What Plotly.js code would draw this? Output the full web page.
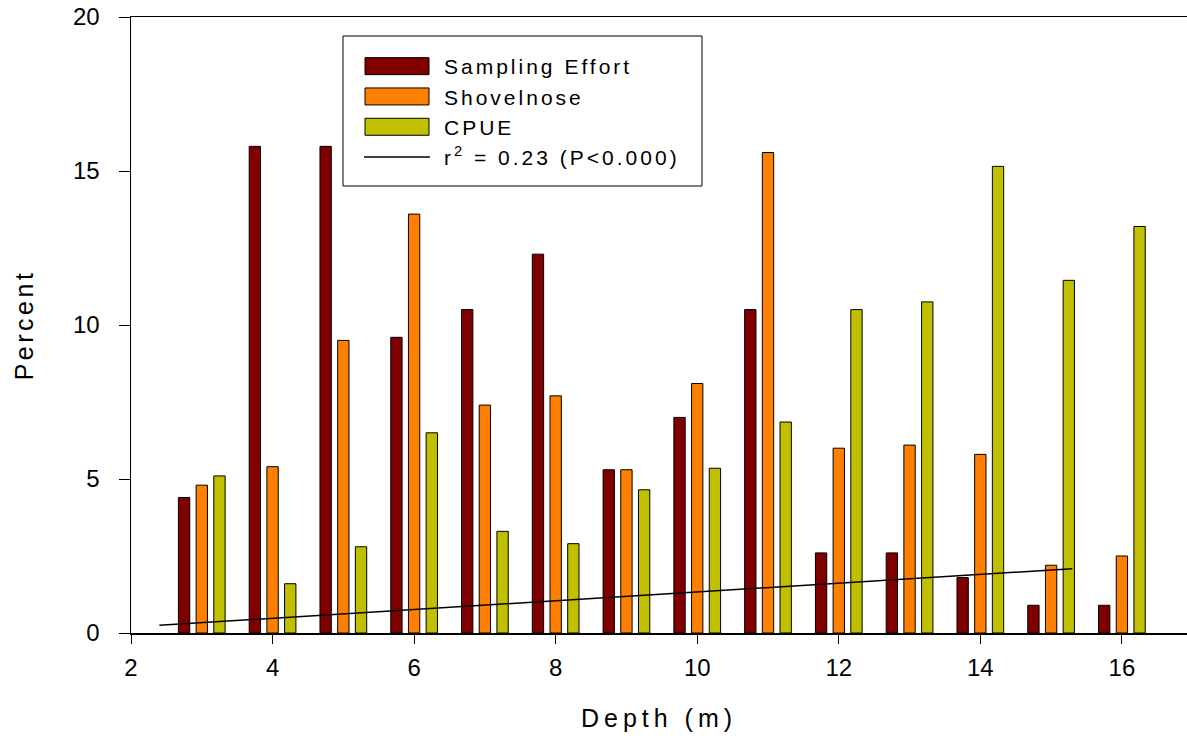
<!DOCTYPE html>
<html>
<head>
<meta charset="utf-8">
<script src="https://cdn.plot.ly/plotly-3.0.1.min.js"></script>
<style>
  html, body { margin: 0; padding: 0; background: #fff; }
  #chart { width: 1187px; height: 738px; }
  .xtitle { letter-spacing: 5px; }
  .ytitle { letter-spacing: 3.5px; }
  .legendtext { letter-spacing: 3px; transform: translateX(9px); }
</style>
</head>
<body>
<div id="chart"></div>
<script>
// Depth categories (m)
const depths = [3, 4, 5, 6, 7, 8, 9, 10, 11, 12, 13, 14, 15, 16];
// Percent values
const samplingEffort = [4.4, 15.8, 15.8, 9.6, 10.5, 12.3, 5.3, 7.0, 10.5, 2.6, 2.6, 1.8, 0.9, 0.9];
const shovelnose     = [4.8, 5.4, 9.5, 13.6, 7.4, 7.7, 5.3, 8.1, 15.6, 6.0, 6.1, 5.8, 2.2, 2.5];
const cpue           = [5.1, 1.6, 2.8, 6.5, 3.3, 2.9, 4.65, 5.35, 6.85, 10.5, 10.75, 15.15, 11.45, 13.2];
// Regression line end points (depth, percent)
const trendX = [2.4, 15.3];
const trendY = [0.25, 2.09];
const xTicks = [2, 4, 6, 8, 10, 12, 14, 16];
const yTicks = [0, 5, 10, 15, 20];

const barLine = { color: '#000', width: 1 };
const traces = [
  { type: 'bar', name: 'Sampling Effort', x: depths, y: samplingEffort,
    marker: { color: '#800000', line: barLine } },
  { type: 'bar', name: 'Shovelnose', x: depths, y: shovelnose,
    marker: { color: '#FF8000', line: barLine } },
  { type: 'bar', name: 'CPUE', x: depths, y: cpue,
    marker: { color: '#C0C000', line: barLine } },
  { type: 'scatter', mode: 'lines', name: 'r<sup>2</sup> = 0.23 (P&lt;0.000)',
    x: trendX, y: trendY, line: { color: '#000', width: 1.5 } }
];

// plot area geometry in pixels
const L = 131, T = 17, W = 1056, H = 616;
const px2x = p => (p - L) / W;
const px2y = p => 1 - (p - T) / H;

const font = { family: 'Liberation Sans, Arial, sans-serif', color: '#000' };
const layout = {
  width: 1187, height: 738,
  margin: { l: L, r: 1187 - L - W, t: T, b: 738 - T - H },
  paper_bgcolor: '#fff', plot_bgcolor: '#fff',
  font: Object.assign({ size: 21 }, font),
  barmode: 'group', bargap: 0.25, bargroupgap: 0.36,
  showlegend: true,
  legend: {
    x: px2x(359), y: px2y(46), xanchor: 'left', yanchor: 'top',
    borderwidth: 0, bgcolor: 'rgba(0,0,0,0)',
    font: Object.assign({ size: 21 }, font),
    itemwidth: 66, tracegroupgap: 0
  },
  shapes: [{
    type: 'rect', xref: 'paper', yref: 'paper', layer: 'above',
    x0: px2x(343), x1: px2x(702), y0: px2y(186), y1: px2y(36),
    line: { color: '#000', width: 1 }, fillcolor: '#fff'
  }],
  xaxis: {
    range: [2, 16.92], tickvals: xTicks, ticks: 'outside', ticklen: 9, tickwidth: 1,
    tickcolor: '#000', showline: true, linecolor: '#000', linewidth: 1.5, mirror: true,
    showgrid: false, zeroline: false, ticklabelstandoff: 4,
    tickfont: Object.assign({ size: 24 }, font),
    title: { text: 'Depth (m)', font: Object.assign({ size: 25 }, font), standoff: 29 }
  },
  yaxis: {
    range: [0, 20], tickvals: yTicks, ticks: 'outside', ticklen: 11, tickwidth: 1,
    tickcolor: '#000', showline: true, linecolor: '#000', linewidth: 1.5,
    showgrid: false, zeroline: false, ticklabelstandoff: 14,
    tickfont: Object.assign({ size: 24 }, font),
    title: { text: 'Percent', font: Object.assign({ size: 25 }, font), standoff: 32 }
  }
};

Plotly.newPlot('chart', traces, layout, { displayModeBar: false, staticPlot: true }).then(() => {
  // enlarge bar swatches in the legend to match the wide rectangular keys
  document.querySelectorAll('#chart .legend path.legendbar, #chart .legend .legendpoints path').forEach(p => {
    const d = p.getAttribute('d') || '';
    if (/^M6,6H-6V-6H6Z$/.test(d.replace(/\s/g, ''))) {
      p.setAttribute('d', 'M32,8.5H-32V-8.5H32Z');
    }
  });
});
</script>
</body>
</html>
